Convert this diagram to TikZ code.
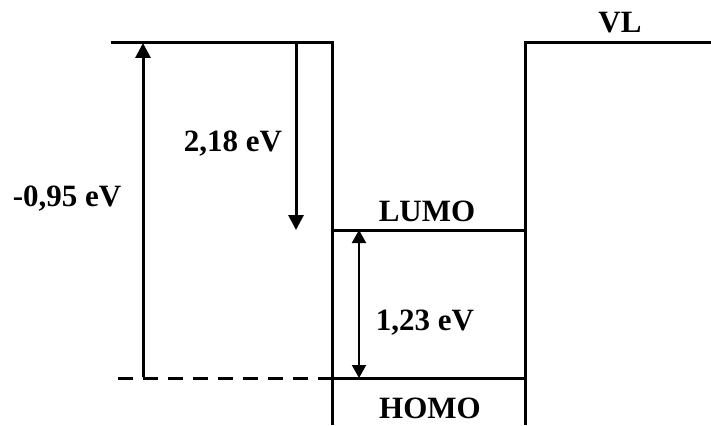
\documentclass[tikz,border=0pt]{standalone}
\usepackage{fontspec}
\setmainfont{Liberation Serif}
\usetikzlibrary{arrows.meta}
\tikzset{
  level/.style={line width=3pt, line join=miter},
  hlevel/.style={line width=3pt, dash pattern=on 15pt off 10pt},
  arrow/.style={-{Triangle[length=15pt, width=15pt]}, line width=3pt},
  darrow/.style={{Triangle[length=13pt, width=14pt]}-{Triangle[length=13pt, width=14pt]},
                 line width=2pt},
  elabel/.style={font=\fontsize{31}{36}\selectfont\bfseries, anchor=base, inner sep=0pt},
}
\begin{document}
\begin{tikzpicture}[x=1pt, y=-1pt]
  \useasboundingbox (0,0) rectangle (711,425);

  % niveaux
  \coordinate (vlleft) at (111,43);
  \coordinate (walltop) at (332,43);
  \coordinate (wallbot) at (332,425);
  \coordinate (wall2bot) at (525,425);
  \coordinate (wall2top) at (525,43);
  \coordinate (vlright) at (711,43);
  \coordinate (lumoL) at (332,230);
  \coordinate (lumoR) at (525,230);
  \coordinate (homoL) at (332,378);
  \coordinate (homoR) at (525,378);
  \coordinate (dashL) at (118,378);

  \draw[level] (vlleft) -- (walltop) -- (wallbot);
  \draw[level] (wall2bot) -- (wall2top) -- (vlright);
  \draw[level] (lumoL) -- (lumoR);
  \draw[level] (homoL) -- (homoR);
  \draw[hlevel] (dashL) -- (homoL);

  % fleches
  \coordinate (a1bot) at (143,377);
  \coordinate (a1top) at (143,43);
  \coordinate (a2top) at (296,43);
  \coordinate (a2bot) at (296,230);
  \coordinate (gaptop) at (359,230);
  \coordinate (gapbot) at (359,378);

  \draw[arrow] (a1bot) -- (a1top);
  \draw[arrow] (a2top) -- (a2bot);
  \draw[darrow] (gaptop) -- (gapbot);

  \node[elabel] (vl) at (620,33) {VL};
  \node[elabel] (lumo) at (427,221) {LUMO};
  \node[elabel] (homo) at (430,418) {HOMO};
  \node[elabel] (ea) at (67,206) {-0,95 eV};
  \node[elabel] (ip) at (233,151) {2,18 eV};
  \node[elabel] (gap) at (425,330) {1,23 eV};
\end{tikzpicture}
\end{document}
